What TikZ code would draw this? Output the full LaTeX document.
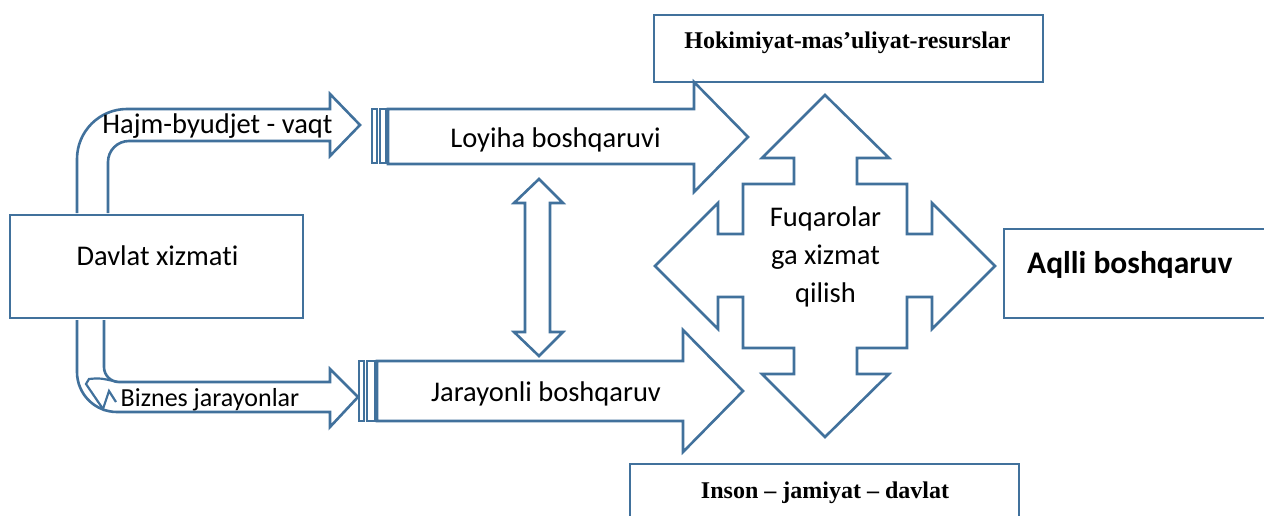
\documentclass[tikz,border=0pt]{standalone}
\usepackage{fontspec}
\setmainfont{Carlito}[Ligatures=NoCommon]
\newfontfamily\tnr{Liberation Serif}
\definecolor{edge}{HTML}{41719C}
\tikzset{
  blk/.style={draw=edge, line width=2.6pt, fill=white, line join=miter},
  boxnode/.style={draw=edge, line width=2.6pt, fill=white, inner sep=0pt, outer sep=0pt},
  txt/.style={anchor=base, inner sep=0pt, font=\fontsize{28.5}{34}\selectfont},
  txtb/.style={anchor=base, inner sep=0pt, font=\tnr\bfseries\fontsize{24}{29}\selectfont},
}
\begin{document}
\begin{tikzpicture}[x=1pt,y=-1pt]
\useasboundingbox (0,0) rectangle (1264,516);
% boxes
\node[boxnode, minimum width=293pt, minimum height=103pt] (davlat) at (156.5,266.5) {};
\node[boxnode, minimum width=389pt, minimum height=67pt] (hok) at (848.5,48.5) {};
\node[boxnode, minimum width=389pt, minimum height=76pt] (inson) at (824.5,502) {};
\node[boxnode, minimum width=276pt, minimum height=89pt] (aqlli) at (1142,273.5) {};
% top bent arrow
\draw[blk] (77,213) -- (77,159) .. controls (77,131.4) and (99.4,109) .. (127,109)
  -- (330,109) -- (330,94) -- (360,125) -- (330,156) -- (330,141) -- (129,141)
  .. controls (117.4,141) and (108,150.4) .. (108,162) -- (108,213);
% bottom bent arrow
\draw[blk] (77,320) -- (77,372) .. controls (77,394.1) and (94.9,412) .. (117,412)
  -- (330,412) -- (330,427) -- (358,397) -- (330,369) -- (330,382) -- (119,382)
  .. controls (110.7,382) and (104,375.3) .. (104,367) -- (104,320);
\draw[draw=edge, line width=2.2pt] (118,382) .. controls (100,378) .. (89,379) -- (86,384) -- (103,409) -- (109,391) -- (116,402);
% Loyiha arrow
\draw[blk] (372,109) rectangle (377,163);
\draw[blk] (380,109) rectangle (386,163);
\draw[blk] (388,109) -- (694,109) -- (694,82) -- (748,137) -- (694,192) -- (694,164) -- (388,164) -- cycle;
% Jarayonli arrow
\draw[blk] (359,361) rectangle (364,421);
\draw[blk] (367,361) rectangle (375,421);
\draw[blk] (377,361) -- (683,361) -- (683,330) -- (743,391) -- (683,452) -- (683,421) -- (377,421) -- cycle;
% vertical double arrow
\draw[blk] (539,179) -- (563,203) -- (550,203) -- (550,332) -- (563,332) -- (539,356)
  -- (514,332) -- (525,332) -- (525,203) -- (514,203) -- cycle;
% four-way arrow
\draw[blk] (825,95) -- (889,158) -- (857,158) -- (857,184) -- (907,184) -- (907,234)
  -- (932,234) -- (932,203) -- (995,266) -- (932,329) -- (932,297) -- (907,297)
  -- (907,348) -- (857,348) -- (857,374) -- (889,374) -- (825,437) -- (762,374)
  -- (794,374) -- (794,348) -- (743,348) -- (743,297) -- (718,297) -- (718,329)
  -- (655,266) -- (718,203) -- (718,234) -- (743,234) -- (743,184) -- (794,184)
  -- (794,158) -- (762,158) -- cycle;
% texts
\node[txt] (tdavlat) at (157.5,265) {Davlat xizmati};
\node[txt] (thajm) at (217.5,134) {Hajm-byudjet - vaqt};
\node[txt, font=\fontsize{26}{31}\selectfont] (tbiz) at (210,406) {Biznes jarayonlar};
\node[txt] (tloy) at (555.5,148) {Loyiha boshqaruvi};
\node[txt] (tjar) at (546,401) {Jarayonli boshqaruv};
\node[txt] (tfuq1) at (825.5,226) {Fuqarolar};
\node[txt] (tfuq2) at (825.5,264) {ga xizmat};
\node[txt] (tfuq3) at (825.5,302) {qilish};
\node[txtb] (thok) at (847.5,49) {Hokimiyat-mas’uliyat-resurslar};
\node[txtb] (tinson) at (825,498) {Inson – jamiyat – davlat};
\node[anchor=base west, inner sep=0pt, font=\bfseries\fontsize{31.5}{37}\selectfont] (taqlli) at (1027,273) {Aqlli boshqaruv};
\end{tikzpicture}
\end{document}
